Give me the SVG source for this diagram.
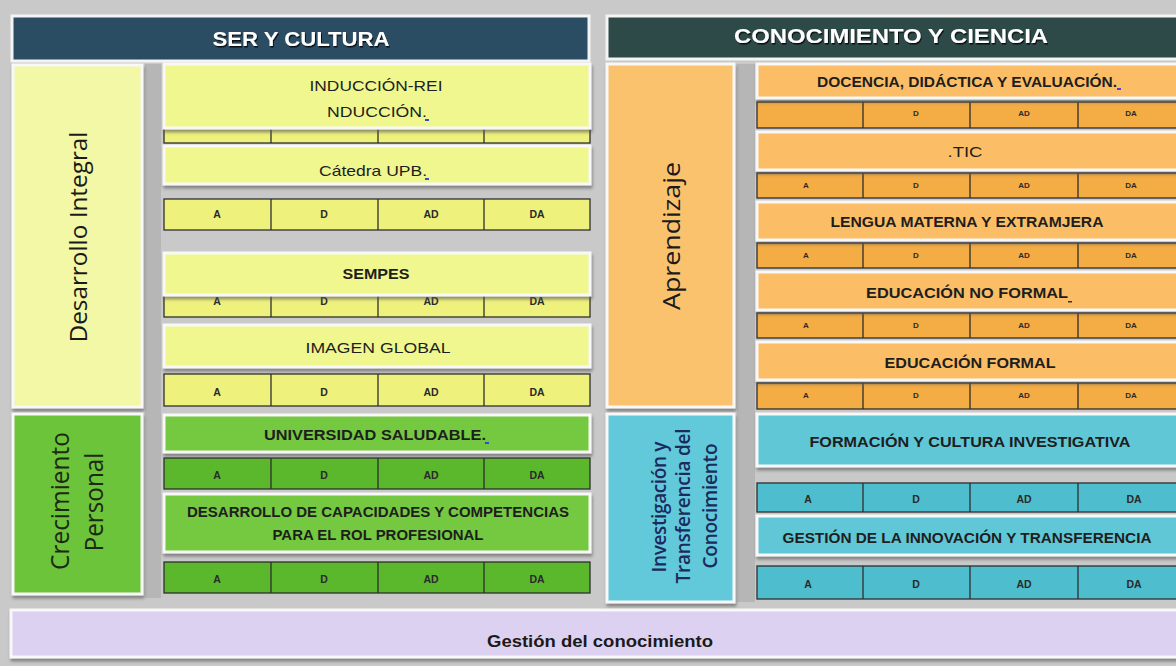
<svg xmlns="http://www.w3.org/2000/svg" width="1176" height="666" viewBox="0 0 1176 666">
<defs>
<filter id="sh" x="-5%" y="-20%" width="110%" height="150%"><feDropShadow dx="1" dy="3" stdDeviation="1.5" flood-color="#555" flood-opacity="0.6"/></filter>
<filter id="ts" x="-5%" y="-20%" width="110%" height="150%"><feDropShadow dx="1" dy="1.5" stdDeviation="0.6" flood-color="#000" flood-opacity="0.8"/></filter>
<style>
.hdrL{fill:#2b4d63;stroke:#f4f4f4;stroke-width:3}
.hdrR{fill:#2d4a48;stroke:#f4f4f4;stroke-width:3}
.ht{font-family:"Liberation Sans",Arial,sans-serif;font-weight:bold;font-size:21px;fill:#fff;text-anchor:middle}
.bx{stroke:#f8f8f8;stroke-width:3}
.row{stroke:#2e2e2e;stroke-width:1.3}
.dv{stroke:#2e2e2e;stroke-width:1.3;fill:none}
.yl{fill:#f2f8a6}.yb{fill:#eff78e}.yr{fill:#eef27c}
.gl{fill:#6cc43a}.gb{fill:#74c93f}.gr{fill:#5bb82d}
.ol{fill:#fbc26e}.ob{fill:#fbbe66}.or{fill:#f4ad45}
.cl{fill:#62c9da}.cb{fill:#60c7d7}.cr{fill:#4ebdcd}
.lv{fill:#dcd1f0}
.strip{fill:#b6b6b6}
.it{font-family:"Liberation Sans",Arial,sans-serif;font-weight:bold;font-size:15px;fill:#1e1e1e;text-anchor:middle}
.itn{font-family:"Liberation Sans",Arial,sans-serif;font-size:15px;fill:#1e1e1e;text-anchor:middle}
.lb{font-family:"Liberation Sans",Arial,sans-serif;font-weight:bold;font-size:10.5px;fill:#2a2a2a;text-anchor:middle}
.lbs{font-family:"Liberation Sans",Arial,sans-serif;font-weight:bold;font-size:8px;fill:#2a2a2a;text-anchor:middle}
.vt{font-family:"Open Sans","DejaVu Sans",sans-serif;font-size:24px;fill:#1a1a1a;text-anchor:middle}
.vg{font-family:"Open Sans","DejaVu Sans",sans-serif;font-size:26px;fill:#1d2a12;text-anchor:middle}
.vc{font-family:"Open Sans","DejaVu Sans",sans-serif;font-weight:600;font-size:19px;fill:#1b2b5c;text-anchor:middle}
.gt{font-family:"Liberation Sans",Arial,sans-serif;font-weight:bold;font-size:17px;fill:#1a1a1a;text-anchor:middle}
.dash{fill:#2e4fd0}
</style>
</defs>
<rect x="0" y="0" width="1176" height="666" fill="#c9c9c9"/>

<!-- strips -->
<rect class="strip" x="145" y="64" width="16" height="534"/>
<rect class="strip" x="737" y="64" width="18" height="538"/>

<!-- Left headers / pillars -->
<g id="ser-y-cultura">
<rect class="hdrL" x="12" y="16" width="577" height="45"/>
<text class="ht" x="301" y="46" textLength="177" lengthAdjust="spacingAndGlyphs" filter="url(#ts)">SER Y CULTURA</text>
</g>
<g id="desarrollo-integral">
<rect class="bx yl" x="13" y="65" width="129" height="342" filter="url(#sh)"/>
<text class="vt" x="87" y="237" transform="rotate(-90 87 237)" textLength="211" lengthAdjust="spacingAndGlyphs">Desarrollo Integral</text>
</g>
<g id="crecimiento-personal">
<rect class="bx gl" x="13" y="414" width="129" height="180" filter="url(#sh)"/>
<text class="vg" x="69" y="501" transform="rotate(-90 69 501)" textLength="138" lengthAdjust="spacingAndGlyphs">Crecimiento</text>
<text class="vg" x="103" y="502" transform="rotate(-90 103 502)" textLength="99" lengthAdjust="spacingAndGlyphs">Personal</text>
</g>

<!-- Left rows -->
<g id="row-induccion">
<rect class="row yr" x="164" y="126" width="426" height="17"/>
<path class="dv" d="M271 126V143M378 126V143M484 126V143"/>
</g>
<g id="row-catedra">
<rect class="row yr" x="164" y="199" width="426" height="31"/>
<path class="dv" d="M271 199V230M378 199V230M484 199V230"/>
<text class="lb" x="217" y="218">A</text><text class="lb" x="324" y="218">D</text><text class="lb" x="431" y="218">AD</text><text class="lb" x="537" y="218">DA</text>
</g>
<g id="row-sempes">
<rect class="row yr" x="164" y="288" width="426" height="29"/>
<path class="dv" d="M271 288V317M378 288V317M484 288V317"/>
<text class="lb" x="217" y="305">A</text><text class="lb" x="324" y="305">D</text><text class="lb" x="431" y="305">AD</text><text class="lb" x="537" y="305">DA</text>
</g>
<g id="row-imagen">
<rect class="row yr" x="164" y="374" width="426" height="32"/>
<path class="dv" d="M271 374V406M378 374V406M484 374V406"/>
<text class="lb" x="217" y="396">A</text><text class="lb" x="324" y="396">D</text><text class="lb" x="431" y="396">AD</text><text class="lb" x="537" y="396">DA</text>
</g>
<g id="row-universidad">
<rect class="row gr" x="164" y="458" width="426" height="31"/>
<path class="dv" d="M271 458V489M378 458V489M484 458V489"/>
<text class="lb" x="217" y="479">A</text><text class="lb" x="324" y="479">D</text><text class="lb" x="431" y="479">AD</text><text class="lb" x="537" y="479">DA</text>
</g>
<g id="row-desarrollo">
<rect class="row gr" x="164" y="562" width="426" height="31"/>
<path class="dv" d="M271 562V593M378 562V593M484 562V593"/>
<text class="lb" x="217" y="583">A</text><text class="lb" x="324" y="583">D</text><text class="lb" x="431" y="583">AD</text><text class="lb" x="537" y="583">DA</text>
</g>

<!-- Left item boxes -->
<g id="induccion">
<rect class="bx yb" x="164" y="64" width="426" height="64" filter="url(#sh)"/>
<text class="itn" x="376" y="91" textLength="133" lengthAdjust="spacingAndGlyphs">INDUCCIÓN-REI</text>
<text class="itn" x="377" y="117" textLength="100" lengthAdjust="spacingAndGlyphs">NDUCCIÓN.</text>
<rect class="dash" x="425" y="119" width="4" height="2"/>
</g>
<g id="catedra-upb">
<rect class="bx yb" x="164" y="146" width="426" height="38" filter="url(#sh)"/>
<text class="itn" x="373" y="176" textLength="108" lengthAdjust="spacingAndGlyphs">Cátedra UPB.</text>
<rect class="dash" x="425" y="178" width="4" height="2"/>
</g>
<g id="sempes">
<rect class="bx yb" x="164" y="253" width="426" height="42" filter="url(#sh)"/>
<text class="it" x="376" y="279" textLength="67" lengthAdjust="spacingAndGlyphs">SEMPES</text>
</g>
<g id="imagen-global">
<rect class="bx yb" x="164" y="325" width="426" height="42" filter="url(#sh)"/>
<text class="itn" x="378" y="353" textLength="145" lengthAdjust="spacingAndGlyphs">IMAGEN GLOBAL</text>
</g>
<g id="universidad-saludable">
<rect class="bx gb" x="164" y="415" width="426" height="37" filter="url(#sh)"/>
<text class="it" x="375" y="440" textLength="222" lengthAdjust="spacingAndGlyphs">UNIVERSIDAD SALUDABLE.</text>
<rect class="dash" x="485" y="442" width="4" height="2"/>
</g>
<g id="desarrollo-capacidades">
<rect class="bx gb" x="164" y="494" width="426" height="58" filter="url(#sh)"/>
<text class="it" x="378" y="517" textLength="382" lengthAdjust="spacingAndGlyphs">DESARROLLO DE CAPACIDADES Y COMPETENCIAS</text>
<text class="it" x="378" y="540" textLength="211" lengthAdjust="spacingAndGlyphs">PARA EL ROL PROFESIONAL</text>
</g>

<!-- Right headers / pillars -->
<g id="conocimiento-y-ciencia">
<rect class="hdrR" x="607" y="16" width="575" height="43"/>
<text class="ht" x="891" y="43" textLength="314" lengthAdjust="spacingAndGlyphs" filter="url(#ts)">CONOCIMIENTO Y CIENCIA</text>
</g>
<g id="aprendizaje">
<rect class="bx ol" x="607" y="64" width="127" height="343" filter="url(#sh)"/>
<text class="vt" x="680" y="236" transform="rotate(-90 680 236)" textLength="148" lengthAdjust="spacingAndGlyphs">Aprendizaje</text>
</g>
<g id="investigacion">
<rect class="bx cl" x="607" y="414" width="127" height="188" filter="url(#sh)"/>
<text class="vc" x="666" y="507" transform="rotate(-90 666 507)" textLength="131" lengthAdjust="spacing">Investigación y</text>
<text class="vc" x="690" y="506" transform="rotate(-90 690 506)" textLength="155" lengthAdjust="spacing">Transferencia del</text>
<text class="vc" x="717" y="506" transform="rotate(-90 717 506)" textLength="125" lengthAdjust="spacing">Conocimiento</text>
</g>

<!-- Right rows -->
<g id="row-docencia">
<rect class="row or" x="757" y="102" width="430" height="26"/>
<path class="dv" d="M863 102V128M970 102V128M1078 102V128"/>
<text class="lbs" x="916" y="116">D</text><text class="lbs" x="1024" y="116">AD</text><text class="lbs" x="1131" y="116">DA</text>
</g>
<g id="row-tic">
<rect class="row or" x="757" y="173" width="430" height="25"/>
<path class="dv" d="M863 173V198M970 173V198M1078 173V198"/>
<text class="lbs" x="806" y="188">A</text><text class="lbs" x="916" y="188">D</text><text class="lbs" x="1024" y="188">AD</text><text class="lbs" x="1131" y="188">DA</text>
</g>
<g id="row-lengua">
<rect class="row or" x="757" y="243" width="430" height="25"/>
<path class="dv" d="M863 243V268M970 243V268M1078 243V268"/>
<text class="lbs" x="806" y="258">A</text><text class="lbs" x="916" y="258">D</text><text class="lbs" x="1024" y="258">AD</text><text class="lbs" x="1131" y="258">DA</text>
</g>
<g id="row-no-formal">
<rect class="row or" x="757" y="313" width="430" height="25"/>
<path class="dv" d="M863 313V338M970 313V338M1078 313V338"/>
<text class="lbs" x="806" y="328">A</text><text class="lbs" x="916" y="328">D</text><text class="lbs" x="1024" y="328">AD</text><text class="lbs" x="1131" y="328">DA</text>
</g>
<g id="row-formal">
<rect class="row or" x="757" y="383" width="430" height="26"/>
<path class="dv" d="M863 383V409M970 383V409M1078 383V409"/>
<text class="lbs" x="806" y="398">A</text><text class="lbs" x="916" y="398">D</text><text class="lbs" x="1024" y="398">AD</text><text class="lbs" x="1131" y="398">DA</text>
</g>
<g id="row-formacion">
<rect class="row cr" x="757" y="483" width="430" height="29"/>
<path class="dv" d="M863 483V512M970 483V512M1078 483V512"/>
<text class="lb" x="808" y="503">A</text><text class="lb" x="916" y="503">D</text><text class="lb" x="1024" y="503">AD</text><text class="lb" x="1134" y="503">DA</text>
</g>
<g id="row-gestion-innovacion">
<rect class="row cr" x="757" y="566" width="430" height="33"/>
<path class="dv" d="M863 566V599M970 566V599M1078 566V599"/>
<text class="lb" x="808" y="588">A</text><text class="lb" x="916" y="588">D</text><text class="lb" x="1024" y="588">AD</text><text class="lb" x="1134" y="588">DA</text>
</g>

<!-- Right item boxes -->
<g id="docencia">
<rect class="bx ob" x="757" y="64" width="430" height="34" filter="url(#sh)"/>
<text class="it" x="967" y="87" textLength="300" lengthAdjust="spacingAndGlyphs">DOCENCIA, DIDÁCTICA Y EVALUACIÓN.</text>
<rect x="1117" y="88" width="4" height="2" fill="#5a3ad0"/>
</g>
<g id="tic">
<rect class="bx ob" x="757" y="132" width="430" height="38" filter="url(#sh)"/>
<text class="itn" x="965" y="157" textLength="35" lengthAdjust="spacingAndGlyphs">.TIC</text>
</g>
<g id="lengua">
<rect class="bx ob" x="757" y="202" width="430" height="38" filter="url(#sh)"/>
<text class="it" x="967" y="227" textLength="273" lengthAdjust="spacingAndGlyphs">LENGUA MATERNA Y EXTRAMJERA</text>
</g>
<g id="educacion-no-formal">
<rect class="bx ob" x="757" y="272" width="430" height="38" filter="url(#sh)"/>
<text class="it" x="967" y="298" textLength="202" lengthAdjust="spacingAndGlyphs">EDUCACIÓN NO FORMAL</text>
<rect x="1068" y="301" width="4" height="1.5" fill="#333"/>
</g>
<g id="educacion-formal">
<rect class="bx ob" x="757" y="342" width="430" height="38" filter="url(#sh)"/>
<text class="it" x="970" y="368" textLength="171" lengthAdjust="spacingAndGlyphs">EDUCACIÓN FORMAL</text>
</g>
<g id="formacion">
<rect class="bx cb" x="757" y="414" width="430" height="52" filter="url(#sh)"/>
<text class="it" x="970" y="447" textLength="321" lengthAdjust="spacingAndGlyphs">FORMACIÓN Y CULTURA INVESTIGATIVA</text>
</g>
<g id="gestion-innovacion">
<rect class="bx cb" x="757" y="516" width="430" height="39" filter="url(#sh)"/>
<text class="it" x="967" y="543" textLength="369" lengthAdjust="spacingAndGlyphs">GESTIÓN DE LA INNOVACIÓN Y TRANSFERENCIA</text>
</g>

<!-- Bottom bar -->
<g id="gestion-conocimiento">
<rect class="bx lv" x="11" y="610" width="1172" height="47" filter="url(#sh)"/>
<text class="gt" x="600" y="647" textLength="226" lengthAdjust="spacingAndGlyphs">Gestión del conocimiento</text>
</g>

<g id="connectors"/>
</svg>
